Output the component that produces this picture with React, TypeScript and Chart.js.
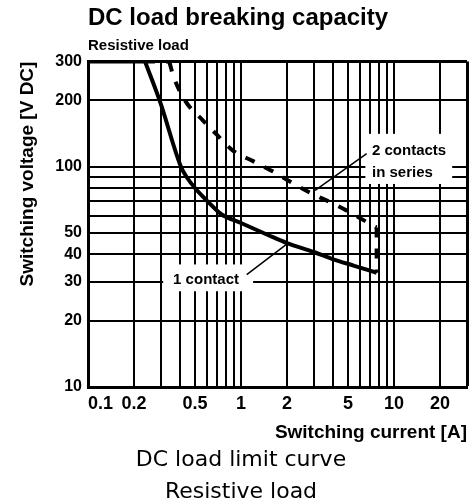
import React, { useEffect, useRef } from "react";
import { Chart, registerables } from "chart.js";

Chart.register(...registerables);

// ---- Data ----
const xGridValues = [0.1, 0.2, 0.3, 0.4, 0.5, 0.6, 0.7, 0.8, 0.9, 1, 2, 3, 4, 5, 6, 7, 8, 9, 10, 20, 30];
const xLabelValues = [0.1, 0.2, 0.5, 1, 2, 5, 10, 20];
const yGridValues = [10, 20, 30, 40, 50, 60, 70, 80, 90, 100, 200, 300];
const yLabelValues = [10, 20, 30, 40, 50, 100, 200, 300];

const oneContactCurrent = [0.236, 0.296, 0.405, 0.44, 0.5, 0.6, 0.74, 1.0, 1.5, 2, 3, 4, 5.5, 7.7];
const oneContactVoltage = [300, 197, 100, 90, 80, 70, 61, 55.5, 49, 45, 41, 38, 35.5, 33];

const twoContactsCurrent = [0.34, 0.36, 0.43, 0.565, 0.7, 0.89, 1.2, 1.62, 2.19, 2.96, 4.0, 5.4, 7.3, 7.7];
const twoContactsVoltage = [300, 260, 200, 162, 139, 118, 106, 95, 84, 75, 68, 61, 54, 53];

const X_MIN = 0.1;
const X_MAX = 30;
const Y_MIN = 10;
const Y_MAX = 300;

const SANS = '"Liberation Sans", Arial, sans-serif';
const CAPTION_FONT = '"DejaVu Sans", sans-serif';

const toPoints = (xs: number[], ys: number[]) => xs.map((x, i) => ({ x, y: ys[i] }));

// callouts placed in data coordinates
const CALLOUT_BOXES = [
  { x0: 0.31, x1: 1.2, y0: 27.2, y1: 36 },
  { x0: 6.5, x1: 24, y0: 83.5, y1: 141 },
];
const CALLOUT_TEXTS = [
  { x: 0.36, y: 30.8, text: "1 contact" },
  { x: 7.18, y: 118, text: "2 contacts" },
  { x: 7.18, y: 94, text: "in series" },
];
const LEADERS = [
  { x0: 1.09, y0: 32.4, x1: 1.99, y1: 44.5 },
  { x0: 3.05, y0: 78, x1: 6.63, y1: 114.7 },
];

const calloutPlugin = {
  id: "callouts",
  beforeDatasetsDraw(chart: any) {
    const { ctx, scales } = chart;
    const xs = scales.x;
    const ys = scales.y;
    ctx.save();
    ctx.fillStyle = "#fff";
    for (const b of CALLOUT_BOXES) {
      const a = xs.getPixelForValue(b.x0);
      const c = xs.getPixelForValue(b.x1);
      const d = ys.getPixelForValue(b.y0);
      const e = ys.getPixelForValue(b.y1);
      ctx.fillRect(Math.min(a, c), Math.min(d, e), Math.abs(c - a), Math.abs(e - d));
    }
    ctx.restore();
  },
  afterDatasetsDraw(chart: any) {
    const { ctx, scales } = chart;
    const xs = scales.x;
    const ys = scales.y;
    ctx.save();
    ctx.strokeStyle = "#000";
    ctx.lineWidth = 1.5;
    for (const l of LEADERS) {
      ctx.beginPath();
      ctx.moveTo(xs.getPixelForValue(l.x0), ys.getPixelForValue(l.y0));
      ctx.lineTo(xs.getPixelForValue(l.x1), ys.getPixelForValue(l.y1));
      ctx.stroke();
    }
    ctx.fillStyle = "#000";
    ctx.font = `bold 15px ${SANS}`;
    ctx.textAlign = "left";
    ctx.textBaseline = "middle";
    for (const t of CALLOUT_TEXTS) {
      ctx.fillText(t.text, xs.getPixelForValue(t.x), ys.getPixelForValue(t.y));
    }
    ctx.restore();
  },
};

export default function App() {
  const canvasRef = useRef<HTMLCanvasElement | null>(null);

  useEffect(() => {
    if (!canvasRef.current) return;
    const oneContact = toPoints(oneContactCurrent, oneContactVoltage);
    const twoContacts = toPoints(twoContactsCurrent, twoContactsVoltage);
    const limitFlat = [
      { x: X_MIN, y: oneContact[0].y },
      { x: oneContact[0].x, y: oneContact[0].y },
    ];
    const seriesFlat = [
      { x: oneContact[0].x, y: twoContacts[0].y },
      { x: twoContacts[0].x, y: twoContacts[0].y },
    ];
    const last1 = oneContact[oneContact.length - 1];
    const last2 = twoContacts[twoContacts.length - 1];
    const connector = [
      { x: last2.x, y: last2.y },
      { x: last2.x, y: last1.y },
    ];

    const solid = { borderColor: "#000", borderWidth: 4, pointRadius: 0, fill: false, borderCapStyle: "butt" };
    const dashed = { ...solid, borderDash: [10, 11] };

    const chart = new Chart(canvasRef.current, {
      type: "line",
      data: {
        datasets: [
          { ...solid, label: "limit", data: limitFlat, tension: 0 },
          { ...solid, label: "1 contact", data: oneContact, cubicInterpolationMode: "monotone" },
          { ...dashed, label: "series top", data: seriesFlat, tension: 0 },
          { ...dashed, label: "2 contacts in series", data: twoContacts, cubicInterpolationMode: "monotone" },
          { ...dashed, label: "end", data: connector, tension: 0 },
        ] as any,
      },
      options: {
        animation: false,
        responsive: false,
        devicePixelRatio: 1,
        layout: { padding: { left: 0, right: 9, top: 0, bottom: 0 } },
        plugins: {
          legend: { display: false },
          tooltip: { enabled: false },
          title: {
            display: true,
            text: "DC load breaking capacity",
            align: "start",
            fullSize: false,
            color: "#000",
            font: { family: SANS, size: 24, weight: "bold", lineHeight: 1.2 },
            padding: { top: 3.6, bottom: 0 },
          },
          subtitle: {
            display: true,
            text: "Resistive load",
            align: "start",
            fullSize: false,
            color: "#000",
            font: { family: SANS, size: 15, weight: "bold", lineHeight: 1.2 },
            padding: { top: 4, bottom: 7.2 },
          },
        },
        scales: {
          x: {
            type: "logarithmic",
            min: X_MIN,
            max: X_MAX,
            afterBuildTicks: (scale: any) => {
              scale.ticks = xGridValues.map((v) => ({ value: v }));
            },
            afterFit: (scale: any) => {
              scale.height = 60;
            },
            ticks: {
              autoSkip: false,
              maxRotation: 0,
              align: "inner",
              padding: 6.2,
              color: "#000",
              font: { family: SANS, size: 18, weight: "bold", lineHeight: 1.2 },
              callback: (v: any) => (xLabelValues.includes(Number(v)) ? String(v) : ""),
            },
            grid: {
              color: "#000",
              lineWidth: (c: any) => (c.tick && c.tick.value === X_MAX ? 3 : 2),
              drawTicks: false,
            },
            border: { display: true, color: "#000", width: 3 },
            title: {
              display: true,
              text: "Switching current [A]",
              align: "end",
              color: "#000",
              font: { family: SANS, size: 19, weight: "bold", lineHeight: 1.2 },
              padding: { top: 0, bottom: 2.6 },
            },
          },
          y: {
            type: "logarithmic",
            min: Y_MIN,
            max: Y_MAX,
            afterBuildTicks: (scale: any) => {
              scale.ticks = yGridValues.map((v) => ({ value: v }));
            },
            afterFit: (scale: any) => {
              scale.width = 88;
            },
            ticks: {
              autoSkip: false,
              padding: 6,
              color: "#000",
              font: { family: SANS, size: 16, weight: "bold", lineHeight: 1.2 },
              callback: (v: any) => (yLabelValues.includes(Number(v)) ? String(v) : ""),
            },
            grid: {
              color: "#000",
              lineWidth: (c: any) => (c.tick && c.tick.value === Y_MAX ? 3 : 2),
              drawTicks: false,
            },
            border: { display: true, color: "#000", width: 3 },
            title: {
              display: true,
              text: "Switching voltage [V DC]",
              align: "end",
              color: "#000",
              font: { family: SANS, size: 19, weight: "bold", lineHeight: 1.2 },
              padding: { top: 16.6, bottom: 0 },
            },
          },
        },
      } as any,
      plugins: [calloutPlugin],
    });
    return () => chart.destroy();
  }, []);

  return (
    <div style={{ position: "absolute", left: 0, top: 0, width: 476, height: 504, background: "#fff" }}>
      <canvas ref={canvasRef} width={476} height={447} style={{ display: "block" }} />
      <div
        style={{
          position: "absolute",
          left: 0,
          top: 443,
          width: 482,
          textAlign: "center",
          fontFamily: CAPTION_FONT,
          fontSize: 22,
          lineHeight: "32px",
          color: "#000",
        }}
      >
        <div>DC load limit curve</div>
        <div>Resistive load</div>
      </div>
    </div>
  );
}
